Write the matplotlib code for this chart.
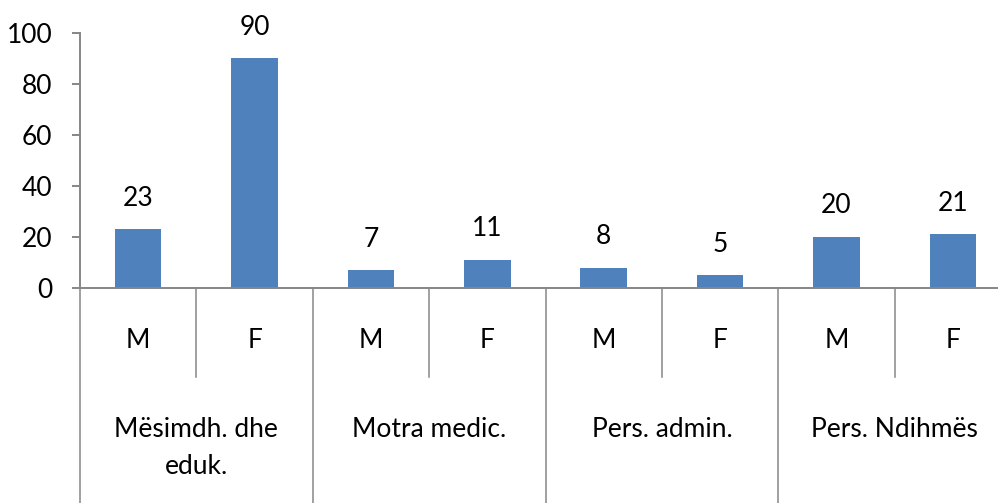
"""
Grouped staff counts by sex, Excel-style two-level category axis
"""

import matplotlib
matplotlib.use('Agg')
import matplotlib.pyplot as plt
import matplotlib.transforms as mtransforms

groups = ['Mësimdh. dhe\neduk.', 'Motra medic.', 'Pers. admin.', 'Pers. Ndihmës']
sexes = ['M', 'F']
values = [23, 90, 7, 11, 8, 5, 20, 21]
yticks = [0, 20, 40, 60, 80, 100]

BAR = '#4F81BD'
AXIS = '#868686'
plt.rcParams['font.family'] = ['Lato', 'DejaVu Sans']


def main():
    fig = plt.figure(figsize=(9.98, 5.03), dpi=100)
    W, H = 998, 503
    # axes spans past the right edge of the figure, as in the original
    ax = fig.add_axes([80 / W, (H - 288) / H, 931 / W, 255 / H])

    n = len(values)
    xs = list(range(n))
    ax.bar(xs, values, width=0.4, color=BAR, zorder=2)
    for x, v in zip(xs, values):
        ax.annotate(str(v), (x, v), xytext=(0, 17), textcoords='offset points',
                    ha='center', va='baseline', fontsize=19)

    ax.set_xlim(-0.5, n - 0.5)
    ax.set_ylim(0, 100)
    ax.set_yticks(yticks)
    ax.set_xticks([])
    ax.tick_params(axis='y', direction='out', length=6, width=1.4, color=AXIS,
                   labelsize=19, pad=14)
    for side in ['top', 'right']:
        ax.spines[side].set_visible(False)
    for side in ['left', 'bottom']:
        ax.spines[side].set_color(AXIS)
        ax.spines[side].set_linewidth(1.4)

    trans = mtransforms.blended_transform_factory(ax.transData, ax.transAxes)
    # sex labels and inner separators
    for i, x in enumerate(xs):
        ax.text(x, -52 / 255, sexes[i % 2], transform=trans, ha='center',
                va='center', fontsize=19)
        if i % 2 == 0:
            ax.plot([x + 0.5, x + 0.5], [0, -89 / 255], transform=trans,
                    color=AXIS, lw=1.1, clip_on=False)
    # group labels and outer separators
    for g, name in enumerate(groups):
        ax.text(2 * g + 0.5, -129 / 255, name, transform=trans, ha='center',
                va='top', fontsize=19, linespacing=1.6)
        left = 2 * g - 0.5
        ax.plot([left, left], [0, -1.0], transform=trans, color=AXIS,
                lw=1.1, clip_on=False)
    ax.plot([n - 0.5, n - 0.5], [0, -1.0], transform=trans, color=AXIS,
            lw=1.1, clip_on=False)

    fig.savefig('out.png', dpi=100)


if __name__ == '__main__':
    main()
